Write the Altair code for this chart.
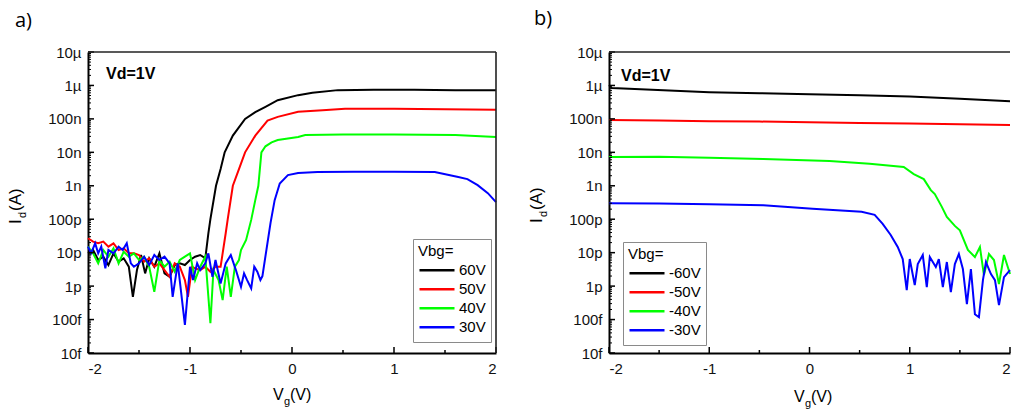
import json
import altair as alt
import pandas as pd

# ---------------- data (Vg in V, log10 of Id in A) ----------------
A_NAMES = ["60V", "50V", "40V", "30V"]
B_NAMES = ["-60V", "-50V", "-40V", "-30V"]
COLORS = ["#000000", "#ff0000", "#00ff00", "#0000ff"]

a_vg_60 = [-2.00, -1.95, -1.90, -1.85, -1.80, -1.75, -1.70, -1.65, -1.60, -1.56, -1.52, -1.48, -1.44, -1.40,
           -1.35, -1.30, -1.25, -1.20, -1.15, -1.10, -1.05, -1.00, -0.95, -0.90, -0.85, -0.82, -0.80, -0.745,
           -0.70, -0.66, -0.58, -0.46, -0.36, -0.26, -0.14, 0.06, 0.20, 0.45, 0.80, 1.20, 1.60, 2.00]
a_id_60 = [-11.02, -10.92, -11.22, -11.12, -11.37, -11.02, -11.27, -11.17, -11.42, -12.32, -11.52, -11.07, -11.62,
           -11.17, -11.42, -11.02, -11.62, -11.72, -11.37, -11.32, -11.37, -11.22, -11.12, -11.07, -11.17, -10.42,
           -10.0, -9.0, -8.5, -8.0, -7.5, -7.0, -6.8, -6.64, -6.44, -6.29, -6.22, -6.14, -6.13, -6.13, -6.14, -6.14]

a_vg_50 = [-2.00, -1.95, -1.90, -1.85, -1.80, -1.75, -1.70, -1.65, -1.60, -1.55, -1.50, -1.45, -1.40, -1.35,
           -1.30, -1.25, -1.20, -1.15, -1.10, -1.05, -1.02, -0.98, -0.95, -0.90, -0.85, -0.80, -0.75, -0.70,
           -0.65, -0.63, -0.58, -0.52, -0.46, -0.36, -0.24, -0.14, 0.06, 0.30, 0.52, 1.00, 1.50, 2.00]
a_id_50 = [-10.57, -10.67, -10.72, -10.67, -10.82, -10.72, -10.92, -10.87, -11.02, -11.02, -11.07, -11.27, -11.17,
           -11.42, -11.32, -11.52, -11.72, -11.32, -11.42, -11.82, -12.32, -11.42, -11.47, -11.52, -11.42, -11.57,
           -11.42, -11.42, -10.42, -10.0, -9.0, -8.5, -8.0, -7.5, -7.05, -6.94, -6.79, -6.74, -6.70, -6.70, -6.71,
           -6.73]

a_vg_40 = [-2.00, -1.95, -1.90, -1.85, -1.80, -1.75, -1.70, -1.65, -1.60, -1.55, -1.50, -1.45, -1.40, -1.35,
           -1.30, -1.25, -1.20, -1.15, -1.10, -1.05, -1.00, -0.95, -0.90, -0.85, -0.80, -0.77, -0.72, -0.68,
           -0.64, -0.60, -0.56, -0.52, -0.50, -0.45, -0.40, -0.36, -0.33, -0.30, -0.26, -0.20, -0.14, 0.06, 0.13,
           0.50, 1.00, 1.60, 2.00]
a_id_40 = [-10.82, -11.02, -11.32, -10.92, -11.12, -10.87, -11.32, -10.97, -11.12, -11.02, -11.22, -11.12, -11.42,
           -12.17, -11.22, -11.42, -11.27, -11.57, -11.22, -11.12, -11.02, -11.82, -11.42, -11.12, -13.11, -11.52,
           -11.82, -12.42, -11.42, -12.32, -11.42, -11.22, -10.92, -10.62, -10.02, -9.43, -9.0, -8.0, -7.82,
           -7.70, -7.63, -7.54, -7.48, -7.47, -7.47, -7.48, -7.54]

a_vg_30 = [-2.00, -1.97, -1.93, -1.90, -1.87, -1.83, -1.80, -1.75, -1.70, -1.66, -1.62, -1.58, -1.55, -1.50,
           -1.45, -1.40, -1.35, -1.30, -1.25, -1.20, -1.17, -1.12, -1.05, -1.00, -0.97, -0.93, -0.90, -0.85,
           -0.82, -0.78, -0.75, -0.70, -0.65, -0.60, -0.55, -0.50, -0.47, -0.44, -0.40, -0.37, -0.34, -0.31,
           -0.29, -0.25, -0.21, -0.17, -0.12, -0.04, 0.06, 0.25, 0.60, 1.00, 1.40, 1.63, 1.72, 1.82, 1.92, 2.00]
a_id_30 = [-10.82, -11.02, -10.72, -11.02, -10.82, -11.47, -10.92, -11.02, -10.82, -10.92, -10.72, -11.32, -11.42,
           -11.32, -11.12, -11.37, -11.07, -11.22, -11.12, -11.32, -12.32, -11.32, -13.16, -11.42, -11.82, -11.32,
           -11.52, -11.32, -11.02, -11.72, -11.22, -11.92, -11.32, -11.07, -11.52, -12.02, -11.62, -11.82, -12.07,
           -11.42, -11.57, -11.82, -11.70, -10.90, -10.10, -9.43, -8.93, -8.68, -8.62, -8.59, -8.58, -8.58, -8.59,
           -8.74, -8.80, -8.98, -9.22, -9.49]

b_vg_60 = [-2.00, -1.97, -1.80, -1.40, -1.00, -0.50, 0.00, 0.50, 1.00, 1.50, 2.00]
b_id_60 = [-5.99, -6.08, -6.10, -6.15, -6.20, -6.23, -6.26, -6.29, -6.33, -6.40, -6.47]

b_vg_50 = [-2.00, -1.50, -1.00, -0.50, 0.00, 0.50, 1.00, 1.50, 2.00]
b_id_50 = [-7.03, -7.05, -7.07, -7.08, -7.10, -7.12, -7.14, -7.16, -7.18]

b_vg_40 = [-2.00, -1.50, -1.00, -0.46, 0.20, 0.60, 0.94, 1.04, 1.14, 1.21, 1.25, 1.32, 1.37, 1.45, 1.50, 1.58,
           1.65, 1.70, 1.74, 1.79, 1.84, 1.89, 1.94, 2.00]
b_id_40 = [-8.14, -8.13, -8.16, -8.20, -8.26, -8.34, -8.44, -8.65, -8.80, -9.13, -9.25, -9.63, -9.93, -10.20,
           -10.33, -10.92, -11.13, -10.83, -11.67, -11.04, -11.22, -11.94, -11.07, -11.64]

b_vg_30 = [-2.00, -1.50, -1.00, -0.46, 0.03, 0.52, 0.65, 0.73, 0.81, 0.88, 0.93, 0.97, 1.00, 1.05, 1.08, 1.13,
           1.17, 1.20, 1.26, 1.29, 1.33, 1.37, 1.41, 1.45, 1.49, 1.53, 1.57, 1.61, 1.65, 1.69, 1.73, 1.76, 1.81,
           1.85, 1.89, 1.94, 2.00]
b_id_30 = [-9.52, -9.53, -9.55, -9.58, -9.69, -9.78, -9.87, -10.14, -10.47, -10.83, -11.19, -12.12, -11.19, -11.97,
           -11.34, -11.07, -12.03, -11.13, -11.43, -11.19, -12.03, -11.28, -12.18, -11.34, -11.04, -11.49, -12.54,
           -11.49, -12.84, -12.93, -11.82, -11.28, -11.64, -11.82, -12.57, -11.73, -11.52]

X_TICKS_MAJOR = [-2, -1, 0, 1, 2]
X_TICKS_MINOR = [-1.5, -0.5, 0.5, 1.5]
Y_TICKS_MAJOR = [1e-14, 1e-13, 1e-12, 1e-11, 1e-10, 1e-9, 1e-8, 1e-7, 1e-6, 1e-5]
Y_TICK_LABELS = ["10f", "100f", "1p", "10p", "100p", "1n", "10n", "100n", "1µ", "10µ"]
Y_TICKS_MINOR = [m * 10.0 ** e for e in range(-14, -5) for m in range(2, 10)]

FONT = "Liberation Sans"
H = 301


def frame(names, pairs):
    rows = []
    for name, (xs, ls) in zip(names, pairs):
        for x, lg in zip(xs, ls):
            rows.append({"Vg": x, "Id": 10.0 ** lg, "Vbg": name})
    return pd.DataFrame(rows)


def txt(text, x, y, size=16, **kw):
    return alt.Chart(pd.DataFrame({"t": [text]})).mark_text(
        font=FONT, fontSize=size, color="black", **kw
    ).encode(x=alt.value(x), y=alt.value(y), text="t:N")


def border(**enc):
    return alt.Chart(pd.DataFrame({"t": [0]})).mark_rule(color="#222", strokeWidth=1.6).encode(**enc)


LABEL_EXPR = json.dumps(Y_TICK_LABELS, ensure_ascii=False) + "[round(log(datum.value)/LN10)+14]"
X_AXIS = alt.Axis(values=X_TICKS_MAJOR, title=None, ticks=False, tickSize=0, labelPadding=8,
                  labelFont=FONT, labelFontSize=15, labelColor="#111", grid=False,
                  domainColor="#000", domainWidth=2,
                  labelExpr="replace(datum.label, '\u2212', '-')")
Y_AXIS = alt.Axis(values=Y_TICKS_MAJOR, title=None, ticks=False, tickSize=0, labelPadding=7,
                  labelFont=FONT, labelFontSize=15, labelColor="#111", grid=False,
                  domainColor="#000", domainWidth=2, labelExpr=LABEL_EXPR)


def panel(df, names, width, right_border, legend_x, legend_y, plab, plab_dx, plab_dy,
          vd_dx, vd_dy, xt_dy, yt_y):
    xs = alt.Scale(domain=[-2, 2], nice=False, zero=False)
    ys = alt.Scale(type="log", domain=[1e-14, 1e-5], nice=False)
    lines = alt.Chart(df).mark_line(strokeWidth=2).encode(
        x=alt.X("Vg:Q", scale=xs, axis=X_AXIS),
        y=alt.Y("Id:Q", scale=ys, axis=Y_AXIS),
        color=alt.Color("Vbg:N", sort=names, scale=alt.Scale(domain=names, range=COLORS),
                        legend=alt.Legend(
                            title="Vbg=", orient="none", legendX=legend_x, legendY=legend_y,
                            direction="vertical", symbolType="stroke", symbolSize=1225,
                            symbolStrokeWidth=2.5, clipHeight=18.5, labelFont=FONT,
                            labelFontSize=15, labelColor="black", titleFont=FONT,
                            titleFontSize=15, titleFontWeight="normal", titleColor="black",
                            fillColor="white", strokeColor="#8a8a8a", padding=5,
                            labelOffset=3, titlePadding=2, rowPadding=0)),
    )
    xmaj = alt.Chart(pd.DataFrame({"Vg": X_TICKS_MAJOR})).mark_rule(color="black", strokeWidth=1.5).encode(
        x=alt.X("Vg:Q", scale=xs, axis=X_AXIS), y=alt.value(H), y2=alt.value(H - 6))
    xmin = alt.Chart(pd.DataFrame({"Vg": X_TICKS_MINOR})).mark_rule(color="black", strokeWidth=1.5).encode(
        x=alt.X("Vg:Q", scale=xs, axis=X_AXIS), y=alt.value(H), y2=alt.value(H - 3))
    ymaj = alt.Chart(pd.DataFrame({"Id": Y_TICKS_MAJOR})).mark_rule(color="black", strokeWidth=1.5).encode(
        y=alt.Y("Id:Q", scale=ys, axis=Y_AXIS), x=alt.value(0), x2=alt.value(6))
    ymin = alt.Chart(pd.DataFrame({"Id": Y_TICKS_MINOR})).mark_rule(color="black", strokeWidth=1).encode(
        y=alt.Y("Id:Q", scale=ys, axis=Y_AXIS), x=alt.value(0), x2=alt.value(3))
    borders = [border(x=alt.value(0), x2=alt.value(width), y=alt.value(0))]
    if right_border:
        borders.append(border(x=alt.value(width), y=alt.value(0), y2=alt.value(H)))
    texts = [
        txt("I", -67, yt_y, 17, angle=270, align="left", baseline="alphabetic"),
        txt("d", -62, yt_y - 6, 11, angle=270, align="left", baseline="alphabetic"),
        txt("(A)", -67, yt_y - 13, 17, angle=270, align="left", baseline="alphabetic"),
        txt("V", 185, H + xt_dy, 16, align="left", baseline="alphabetic"),
        txt("g", 196, H + xt_dy + 5, 11, align="left", baseline="alphabetic"),
        txt("(V)", 202, H + xt_dy, 16, align="left", baseline="alphabetic"),
        txt("Vd=1V", vd_dx, vd_dy, 16, align="left", baseline="alphabetic", fontWeight="bold"),
        alt.Chart(pd.DataFrame({"t": [plab]})).mark_text(
            font="Open Sans", fontSize=20, color="black", align="left", baseline="alphabetic"
        ).encode(x=alt.value(plab_dx), y=alt.value(plab_dy), text="t:N"),
    ]
    return alt.layer(lines, ymin, ymaj, xmin, xmaj, *borders, *texts).properties(width=width, height=H)


df_a = frame(A_NAMES, [(a_vg_60, a_id_60), (a_vg_50, a_id_50), (a_vg_40, a_id_40), (a_vg_30, a_id_30)])
df_b = frame(B_NAMES, [(b_vg_60, b_id_60), (b_vg_50, b_id_50), (b_vg_40, b_id_40), (b_vg_30, b_id_30)])

pa = panel(df_a, A_NAMES, 408, True, 325, 187, "a)", -73, -25, 18, 27, 47, 172)
pb = panel(df_b, B_NAMES, 401, False, 14, 190, "b)", -75, -27, 12, 29, 49, 171)

chart = alt.hconcat(pa, pb, spacing=28).resolve_scale(
    color="independent", x="independent", y="independent"
).resolve_legend(color="independent").properties(
    padding={"left": 7, "top": 9, "right": 0, "bottom": 0}
).configure_view(stroke=None)

chart.save("out.html", embed_options={"renderer": "svg", "actions": False})
